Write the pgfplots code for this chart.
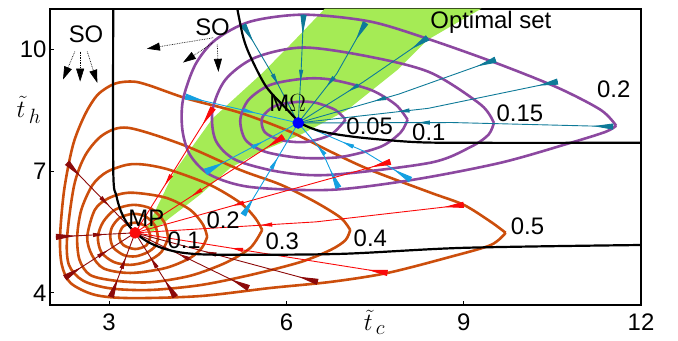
\documentclass[border=0pt]{standalone}
\usepackage{fontspec}
\setmainfont{Liberation Sans}
\usepackage{pgfplots}
\pgfplotsset{compat=1.18}
\usetikzlibrary{decorations.markings,arrows.meta}
\definecolor{orC}{RGB}{204,78,12}
\definecolor{puC}{RGB}{140,72,160}
\definecolor{tealC}{RGB}{14,122,152}
\definecolor{lbC}{RGB}{20,160,225}
\definecolor{rdC}{RGB}{250,10,10}
\definecolor{drC}{RGB}{140,10,10}
\definecolor{grC}{RGB}{165,235,85}
\tikzset{
 mkray/.style 2 args={draw=#1, line width=0.9bp, postaction={decorate, decoration={markings,
   mark=at position 20bp with {\arrow[#1]{Triangle[length=20bp,width=#2]}},
   mark=at position 0.62 with {\arrow[#1]{Triangle[length=12bp,width=4bp]}}}}},
}
\begin{document}
\begin{tikzpicture}[font=\fontsize{24}{28}\selectfont]
\path[use as bounding box] (-50bp,-36bp) rectangle (628bp,305bp);
\begin{axis}[scale only axis, width=591bp, height=296bp, at={(0,0)}, anchor=south west,
 xmin=2, xmax=12, ymin=3.7, ymax=11,
 xtick={3,6,9,12}, ytick={4,7,10},
 tick align=inside, xtick pos=left, ytick pos=left, major tick length=4bp,
 axis line style={line width=1.2bp}, tick style={line width=0.8bp, black},
 /pgf/number format/assume math mode=true,
 ticklabel style={font=\fontsize{24}{28}\selectfont},
 xticklabel style={yshift=-5bp},
 clip mode=individual]

% optimal set (green band)
\addplot[draw=none, fill=grC] coordinates {
 (3.64,5.60) (4.10,6.98) (4.75,8.30) (5.60,9.43) (6.10,10.17) (6.65,11.01)
 (9.30,11.01) (8.39,10.24) (7.88,9.50) (7.03,8.51) (6.24,7.90) (5.56,7.48)
 (5.05,7.08) (4.54,6.42) (4.03,5.85) (3.73,5.50) (3.64,5.60)};

% orange level curves around MP
\addplot[orC, line width=2.6bp, smooth] coordinates {
 (9.71,5.48) (9.46,5.75) (9.00,6.17) (8.44,6.47) (7.42,7.03) (6.75,7.48) (6.07,7.97)
 (5.22,8.44) (4.32,8.79) (3.69,9.11) (3.41,9.21) (3.10,9.16) (2.81,8.89) (2.59,8.39)
 (2.39,7.65) (2.24,6.54) (2.17,5.38) (2.20,4.69) (2.35,4.24) (2.76,3.95) (3.36,3.87)
 (4.54,3.92) (5.73,4.12) (6.75,4.27) (7.71,4.49) (8.78,4.89) (9.46,5.18) (9.71,5.48)};
\addplot[orC, line width=2.6bp, smooth] coordinates {
 (7.08,5.55) (6.92,5.85) (6.49,6.24) (5.90,6.67) (5.22,7.03) (4.25,7.65) (3.32,8.07)
 (2.90,7.90) (2.60,7.40) (2.41,6.66) (2.29,5.38) (2.32,4.69) (2.56,4.30) (3.02,4.11)
 (3.69,4.07) (4.54,4.19) (5.39,4.44) (6.24,4.76) (6.75,5.06) (7.00,5.30) (7.08,5.55)};
\addplot[orC, line width=2.6bp, smooth] coordinates {
 (5.59,5.55) (5.47,5.85) (5.22,6.22) (4.71,6.66) (4.03,7.03) (3.61,7.16) (3.31,7.16)
 (2.96,6.98) (2.72,6.66) (2.53,6.05) (2.46,5.38) (2.50,4.81) (2.68,4.44) (3.10,4.30)
 (3.69,4.26) (4.37,4.42) (4.97,4.74) (5.39,5.11) (5.59,5.55)};
\addplot[orC, line width=2.6bp, smooth] coordinates {
 (4.66,5.38) (4.59,5.68) (4.37,6.05) (3.95,6.35) (3.36,6.47) (3.00,6.34) (2.76,6.05)
 (2.63,5.38) (2.71,4.93) (2.91,4.60) (3.36,4.49) (3.95,4.61) (4.37,4.86) (4.57,5.11) (4.66,5.38)};
\addplot[orC, line width=2.6bp, smooth] coordinates {
 (4.00,5.35) (3.93,5.75) (3.72,6.07) (3.41,6.17) (3.10,6.05) (2.90,5.75) (2.81,5.38)
 (2.87,5.00) (3.08,4.76) (3.36,4.69) (3.65,4.78) (3.88,5.00) (4.00,5.35)};
\addplot[orC, line width=2.6bp, smooth] coordinates {
 (3.83,5.35) (3.78,5.65) (3.62,5.88) (3.41,5.95) (3.18,5.85) (3.05,5.62) (3.02,5.38)
 (3.07,5.12) (3.25,4.93) (3.45,4.90) (3.65,5.00) (3.78,5.15) (3.83,5.35)};
\addplot[orC, line width=2.6bp, smooth] coordinates {
 (3.70,5.40) (3.63,5.63) (3.44,5.73) (3.24,5.64) (3.17,5.40) (3.24,5.18) (3.44,5.08)
 (3.63,5.17) (3.70,5.40)};

% purple level curves around M-Omega
\addplot[puC, line width=2.6bp, smooth] coordinates {
 (11.58,8.12) (11.32,8.51) (10.59,9.06) (9.58,9.65) (8.44,10.24) (7.42,10.69) (6.29,10.86)
 (5.39,10.69) (4.80,10.24) (4.46,9.63) (4.25,8.76) (4.24,8.02) (4.37,7.40) (4.71,6.91)
 (5.39,6.61) (6.75,6.54) (8.15,6.79) (9.63,7.21) (10.81,7.70) (11.40,7.97) (11.58,8.12)};
\addplot[puC, line width=2.6bp, smooth] coordinates {
 (9.51,8.19) (9.29,8.64) (8.44,9.43) (7.42,9.82) (6.29,10.05) (5.47,9.80) (4.97,9.26)
 (4.75,8.51) (4.80,7.77) (5.14,7.28) (5.90,6.98) (6.75,6.91) (8.44,7.21) (9.12,7.60)
 (9.42,7.90) (9.51,8.19)};
\addplot[puC, line width=2.6bp, smooth] coordinates {
 (8.05,8.27) (7.85,8.64) (7.42,9.01) (6.75,9.26) (6.29,9.28) (5.73,9.13) (5.36,8.76)
 (5.22,8.27) (5.31,7.77) (5.64,7.48) (6.24,7.33) (6.92,7.35) (7.59,7.60) (7.93,7.95) (8.05,8.27)};
\addplot[puC, line width=2.6bp, smooth] coordinates {
 (7.00,8.27) (6.83,8.51) (6.49,8.69) (6.20,8.71) (5.81,8.61) (5.59,8.32) (5.63,7.97)
 (5.90,7.77) (6.32,7.72) (6.75,7.90) (7.00,8.27)};

% rays toward M-Omega
\addplot[mkray={tealC}{6bp}] coordinates {(5.27,10.61) (5.80,9.30) (6.20,8.19)};
\addplot[mkray={tealC}{6bp}] coordinates {(6.29,10.86) (6.25,9.50) (6.20,8.19)};
\addplot[mkray={tealC}{6bp}] coordinates {(7.34,10.66) (6.85,9.40) (6.20,8.19)};
\addplot[mkray={tealC}{6bp}] coordinates {(8.39,10.29) (7.30,9.20) (6.20,8.19)};
\addplot[mkray={tealC}{6bp}] coordinates {(9.54,9.75) (7.90,8.90) (6.20,8.19)};
\addplot[mkray={tealC}{6bp}] coordinates {(10.59,9.21) (8.40,8.55) (6.20,8.19)};
\addplot[mkray={tealC}{6bp}] coordinates {(11.53,8.10) (8.80,8.20) (6.20,8.19)};
\addplot[mkray={lbC}{6bp}] coordinates {(4.29,8.84) (6.20,8.19)};
\addplot[mkray={lbC}{7bp}] coordinates {(4.63,6.98) (6.20,8.19)};
\addplot[mkray={lbC}{6bp}] coordinates {(5.27,5.92) (5.80,7.20) (6.20,8.19)};
\addplot[mkray={lbC}{6bp}] coordinates {(6.88,6.59) (6.60,7.50) (6.20,8.19)};
\addplot[mkray={lbC}{6bp}] coordinates {(8.10,6.79) (7.30,7.50) (6.20,8.19)};

% rays toward MP
\addplot[mkray={rdC}{6bp}] coordinates {(4.76,8.56) (3.44,5.48)};
\addplot[mkray={rdC}{6bp}] coordinates {(5.95,7.85) (3.44,5.48)};
\addplot[mkray={rdC}{6bp}] coordinates {(7.76,7.23) (3.44,5.48)};
\addplot[mkray={rdC}{6bp}] coordinates {(9.00,6.17) (6.50,5.75) (3.44,5.48)};
\addplot[mkray={rdC}{6bp}] coordinates {(7.71,4.49) (3.44,5.48)};
\addplot[mkray={drC}{6bp}] coordinates {(6.53,4.27) (3.44,5.48)};
\addplot[mkray={drC}{6bp}] coordinates {(5.36,4.12) (3.44,5.48)};
\addplot[mkray={drC}{6bp}] coordinates {(4.12,3.90) (3.44,5.48)};
\addplot[mkray={drC}{6bp}] coordinates {(3.03,3.90) (3.44,5.48)};
\addplot[mkray={drC}{6bp}] coordinates {(2.25,4.37) (3.44,5.48)};
\addplot[mkray={drC}{6bp}] coordinates {(2.10,5.38) (3.44,5.48)};
\addplot[mkray={drC}{6bp}] coordinates {(2.29,7.21) (3.44,5.48)};

% black curves
\addplot[black, line width=2.2bp, smooth] coordinates {
 (3.07,11.2) (3.07,7.03) (3.12,6.42) (3.19,6.05) (3.29,5.75) (3.41,5.53) (3.53,5.38)
 (3.69,5.23) (3.95,5.08) (4.29,4.98) (4.88,4.94) (6.90,4.96) (9.00,5.11) (12.02,5.18)};
\addplot[black, line width=2.2bp, smooth] coordinates {
 (5.15,11.2) (5.17,11.0) (5.27,10.3) (5.39,9.83) (5.66,9.08) (6.02,8.51) (6.24,8.19)
 (6.50,8.02) (6.80,7.92) (7.31,7.82) (8.15,7.72) (9.00,7.70) (12.02,7.70)};

% optimal points
\addplot[only marks, mark=*, mark size=5.5bp, color=rdC] coordinates {(3.44,5.48)};
\addplot[only marks, mark=*, mark size=5.5bp, color=blue] coordinates {(6.20,8.19)};

% labels
\node at (axis cs:3.63,5.85) {MP};
\node at (axis cs:6.02,8.69) {M$\Omega$};
\node at (axis cs:4.27,5.30) {0.1};
\node at (axis cs:4.93,5.80) {0.2};
\node at (axis cs:5.93,5.26) {0.3};
\node at (axis cs:7.42,5.35) {0.4};
\node at (axis cs:10.08,5.63) {0.5};
\node at (axis cs:7.41,8.10) {0.05};
\node at (axis cs:8.41,7.97) {0.1};
\node at (axis cs:9.95,8.42) {0.15};
\node at (axis cs:11.54,9.03) {0.2};
\node at (axis cs:9.46,10.66) {Optimal set};
\node at (axis cs:2.61,10.37) {SO};
\node at (axis cs:4.75,10.56) {SO};

% SO arrows
\draw[densely dotted, line width=0.7bp, -{Triangle[length=13bp,width=8bp]}] (axis cs:2.42,9.95) -- (axis cs:2.22,9.26);
\draw[densely dotted, line width=0.7bp, -{Triangle[length=13bp,width=8bp]}] (axis cs:2.51,9.95) -- (axis cs:2.51,9.21);
\draw[densely dotted, line width=0.7bp, -{Triangle[length=13bp,width=8bp]}] (axis cs:2.63,9.95) -- (axis cs:2.80,9.18);
\draw[densely dotted, line width=0.7bp, -{Triangle[length=13bp,width=8bp]}] (axis cs:4.76,10.29) -- (axis cs:3.64,10.02);
\draw[densely dotted, line width=0.7bp, -{Triangle[length=13bp,width=8bp]}] (axis cs:4.76,10.17) -- (axis cs:4.25,9.68);
\draw[densely dotted, line width=0.7bp, -{Triangle[length=13bp,width=8bp]}] (axis cs:4.83,10.12) -- (axis cs:4.85,9.45);

% axis labels
\node[font=\fontsize{30}{32}\selectfont] at (axis cs:1.64,8.51) {$\tilde{t}_{\,h}$};
\node[font=\fontsize{30}{32}\selectfont] at (axis cs:7.49,3.28) {$\tilde{t}_{\,c}$};
\end{axis}
\end{tikzpicture}
\end{document}
